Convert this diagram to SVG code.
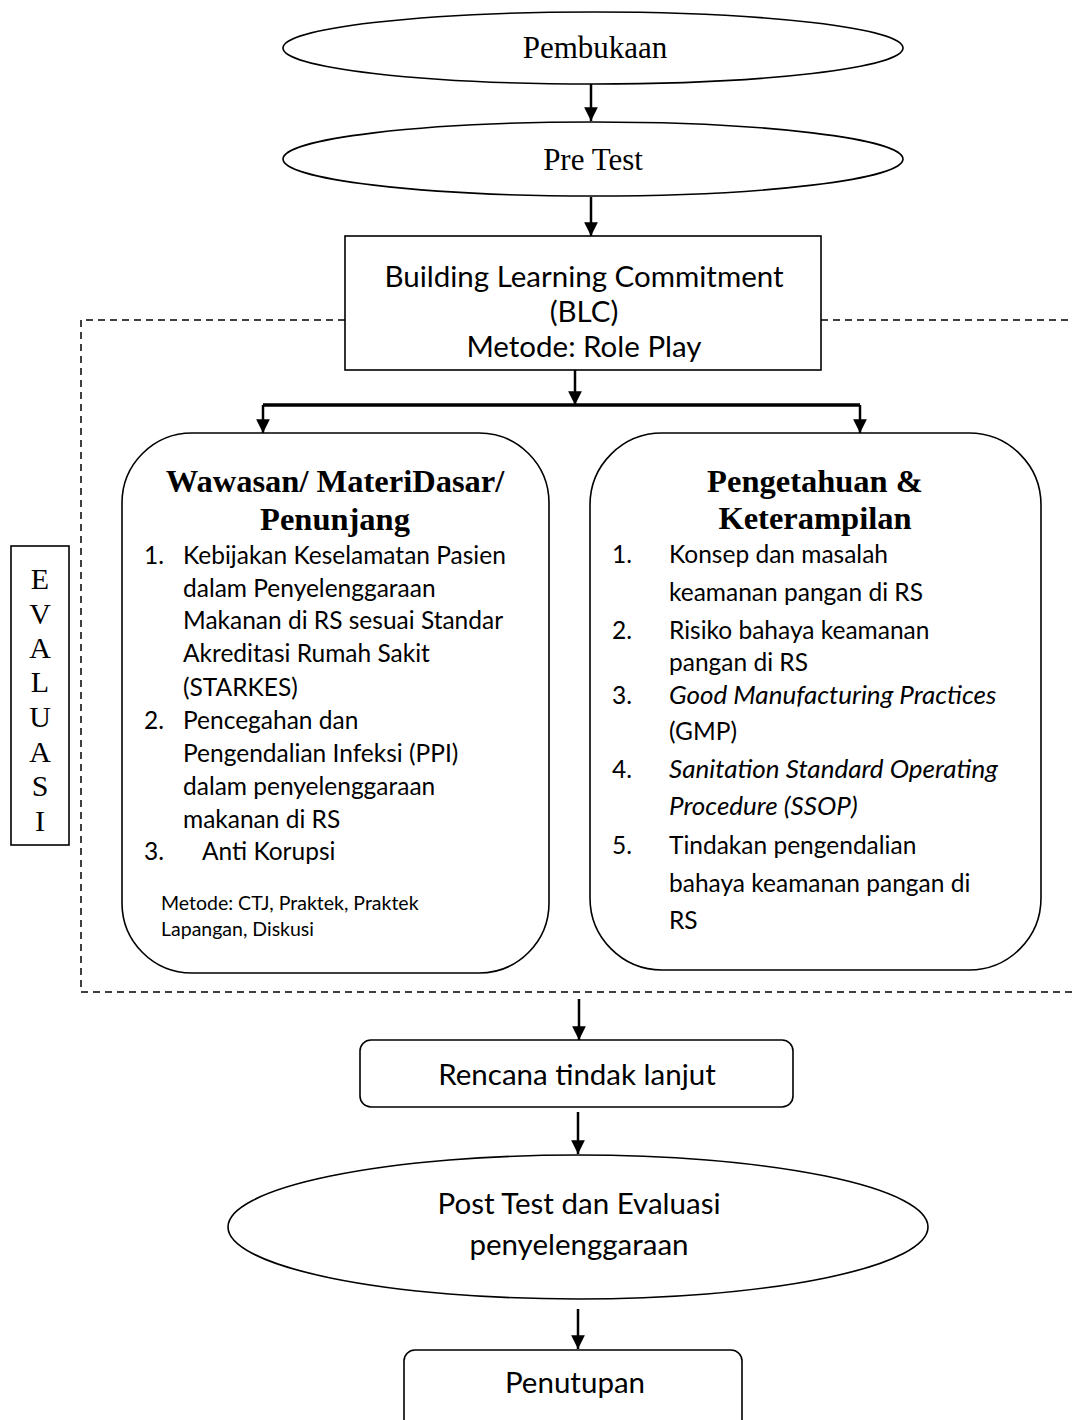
<svg xmlns="http://www.w3.org/2000/svg" width="1072" height="1420" viewBox="0 0 1072 1420">
<defs>
<marker id="ah" viewBox="0 0 10 10" refX="10" refY="5" markerWidth="5.5" markerHeight="5.5" orient="auto" markerUnits="strokeWidth">
<path d="M0,0 L10,5 L0,10 z" fill="#000"/>
</marker>
<style>
.sh{fill:#fff;stroke:#000;stroke-width:1.6}
.ser{font-family:"Liberation Serif",serif;fill:#000}
.cal{font-family:Lato,"Liberation Sans",sans-serif;fill:#000}
.tt{font-family:"Liberation Serif",serif;font-weight:bold;font-size:32.5px;fill:#000;text-anchor:middle}
.it{font-family:Lato,"Liberation Sans",sans-serif;font-size:24.5px;fill:#000}
.c{stroke:#000;stroke-width:2.5;fill:none}
.d{stroke:#000;stroke-width:1.5;fill:none;stroke-dasharray:7,5}
</style>
</defs>
<rect width="1072" height="1420" fill="#fff"/>
<g id="evaluasi-frame">
<path class="d" d="M345,320 H81 V992 H1072"/>
<path class="d" d="M821,320 H1072"/>
</g>
<g id="connectors">
<line class="c" x1="591" y1="84" x2="591" y2="121" marker-end="url(#ah)"/>
<line class="c" x1="591" y1="197" x2="591" y2="236" marker-end="url(#ah)"/>
<line class="c" x1="575" y1="370" x2="575" y2="405" marker-end="url(#ah)"/>
<path d="M263,405 H860" stroke="#000" stroke-width="3.5" fill="none"/>
<line class="c" x1="263" y1="405" x2="263" y2="433" marker-end="url(#ah)"/>
<line class="c" x1="860" y1="405" x2="860" y2="433" marker-end="url(#ah)"/>
<line class="c" x1="579" y1="999" x2="579" y2="1040" marker-end="url(#ah)"/>
<line class="c" x1="578" y1="1112" x2="578" y2="1154" marker-end="url(#ah)"/>
<line class="c" x1="578" y1="1309" x2="578" y2="1349" marker-end="url(#ah)"/>
</g>
<g id="pembukaan">
<ellipse class="sh" cx="593" cy="48" rx="310" ry="36"/>
<text class="ser" x="595" y="58" font-size="31" text-anchor="middle">Pembukaan</text>
</g>
<g id="pretest">
<ellipse class="sh" cx="593" cy="159" rx="310" ry="37"/>
<text class="ser" x="593" y="170" font-size="31" text-anchor="middle">Pre Test</text>
</g>
<g id="blc">
<rect class="sh" x="345" y="236" width="476" height="134"/>
<text class="cal" font-size="29.5" text-anchor="middle"><tspan x="584" y="287">Building Learning Commitment</tspan><tspan x="584" y="322">(BLC)</tspan><tspan x="584" y="357">Metode: Role Play</tspan></text>
</g>
<g id="wawasan">
<rect class="sh" x="122" y="433" width="427" height="540" rx="70" ry="70"/>
<text class="tt" x="335" y="492">Wawasan/ MateriDasar/</text>
<text class="tt" x="335" y="530">Penunjang</text>
<text class="it">
<tspan x="144" y="564">1.</tspan><tspan x="183" y="564">Kebijakan Keselamatan Pasien</tspan>
<tspan x="183" y="597">dalam Penyelenggaraan</tspan>
<tspan x="183" y="629">Makanan di RS sesuai Standar</tspan>
<tspan x="183" y="662">Akreditasi Rumah Sakit</tspan>
<tspan x="183" y="696">(STARKES)</tspan>
<tspan x="144" y="729">2.</tspan><tspan x="183" y="729">Pencegahan dan</tspan>
<tspan x="183" y="762">Pengendalian Infeksi (PPI)</tspan>
<tspan x="183" y="795">dalam penyelenggaraan</tspan>
<tspan x="183" y="828">makanan di RS</tspan>
<tspan x="144" y="860">3.</tspan><tspan x="202" y="860">Anti Korupsi</tspan>
</text>
<text class="cal" font-size="19.5"><tspan x="161" y="910">Metode: CTJ, Praktek, Praktek</tspan><tspan x="161" y="936">Lapangan, Diskusi</tspan></text>
</g>
<g id="pengetahuan">
<rect class="sh" x="590" y="433" width="451" height="537" rx="72" ry="72"/>
<text class="tt" x="815" y="492">Pengetahuan &amp;</text>
<text class="tt" x="815" y="529">Keterampilan</text>
<text class="it">
<tspan x="612" y="563">1.</tspan><tspan x="669" y="563">Konsep dan masalah</tspan>
<tspan x="669" y="601">keamanan pangan di RS</tspan>
<tspan x="612" y="639">2.</tspan><tspan x="669" y="639">Risiko bahaya keamanan</tspan>
<tspan x="669" y="671">pangan di RS</tspan>
<tspan x="612" y="704">3.</tspan><tspan x="669" y="704" font-style="italic" font-size="26">Good Manufacturing Practices</tspan>
<tspan x="669" y="740">(GMP)</tspan>
<tspan x="612" y="778">4.</tspan><tspan x="669" y="778" font-style="italic" font-size="26">Sanitation Standard Operating</tspan>
<tspan x="669" y="815" font-style="italic" font-size="26">Procedure (SSOP)</tspan>
<tspan x="612" y="854">5.</tspan><tspan x="669" y="854">Tindakan pengendalian</tspan>
<tspan x="669" y="892">bahaya keamanan pangan di</tspan>
<tspan x="669" y="929">RS</tspan>
</text>
</g>
<g id="evaluasi">
<rect class="sh" x="11" y="546" width="58" height="299"/>
<text class="ser" font-size="30" text-anchor="middle">
<tspan x="40" y="589">E</tspan><tspan x="40" y="624">V</tspan><tspan x="40" y="658">A</tspan><tspan x="40" y="692">L</tspan><tspan x="40" y="727">U</tspan><tspan x="40" y="762">A</tspan><tspan x="40" y="796">S</tspan><tspan x="40" y="831">I</tspan>
</text>
</g>
<g id="rencana">
<rect class="sh" x="360" y="1040" width="433" height="67" rx="11" ry="11"/>
<text class="cal" x="577" y="1085" font-size="29.5" text-anchor="middle">Rencana tindak lanjut</text>
</g>
<g id="posttest">
<ellipse class="sh" cx="578" cy="1227" rx="350" ry="72"/>
<text class="cal" font-size="29.5" text-anchor="middle"><tspan x="579" y="1214">Post Test dan Evaluasi</tspan><tspan x="579" y="1255">penyelenggaraan</tspan></text>
</g>
<g id="penutupan">
<rect class="sh" x="404" y="1350" width="338" height="90" rx="11" ry="11"/>
<text class="cal" x="575" y="1393" font-size="29.5" text-anchor="middle">Penutupan</text>
</g>
</svg>
